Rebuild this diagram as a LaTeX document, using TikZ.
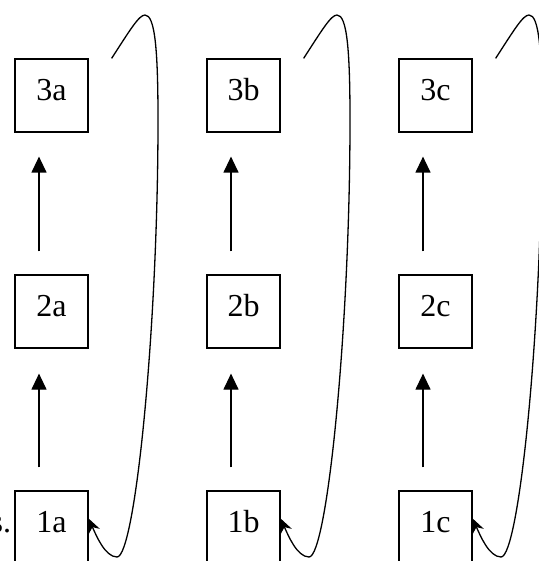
\documentclass[tikz,border=0pt]{standalone}
\usepackage{fontspec}
\setmainfont{Liberation Serif}
\usetikzlibrary{arrows.meta}
\begin{document}
\begin{tikzpicture}[x=1pt,y=-1pt,
 box/.style={draw,line width=1.2pt,minimum size=73pt,inner sep=0pt,font=\fontsize{32}{38}\selectfont,text height=22pt,text depth=12pt},
 uparr/.style={line width=1.2pt,-{Triangle[width=15pt,length=16pt]}},
 loopc/.style={line width=1.3pt,-{Stealth[width=12pt,length=14pt]}},
 lbl/.style={font=\fontsize{32}{38}\selectfont,inner sep=0pt}]
\useasboundingbox (0,0) rectangle (538,561);
\foreach \c/\x in {a/51.5,b/243.5,c/435.5}{
  \node[box] (n3\c) at (\x,95.5) {3\c};
  \node[box] (n2\c) at (\x,311.5) {2\c};
  \node[box] (n1\c) at (\x,527.5) {1\c};
  \draw[uparr] ([xshift=-12.5pt,yshift=23pt]n2\c.north) -- ([xshift=-12.5pt,yshift=-24pt]n3\c.south);
  \draw[uparr] ([xshift=-12.5pt,yshift=23pt]n1\c.north) -- ([xshift=-12.5pt,yshift=-25pt]n2\c.south);
}
\foreach \c/\o in {a/0,b/192,c/384}{
  \coordinate (s\c) at ([xshift=23pt]n3\c.north east);
  \begin{scope}[xshift=\o pt]
  \draw[loopc] (s\c) .. controls (130,30) and (139,15) .. (145,15)
     .. controls (155,15) and (158,50) .. (158,120)
     .. controls (158,330) and (135,557) .. (117,557)
     .. controls (105,557) and (96,535) .. ([yshift=9pt]n1\c.east);
  \end{scope}
}
\node[lbl,anchor=base east] (s) at ([xshift=-3pt]n1a.base west) {s.};
\end{tikzpicture}
\end{document}
